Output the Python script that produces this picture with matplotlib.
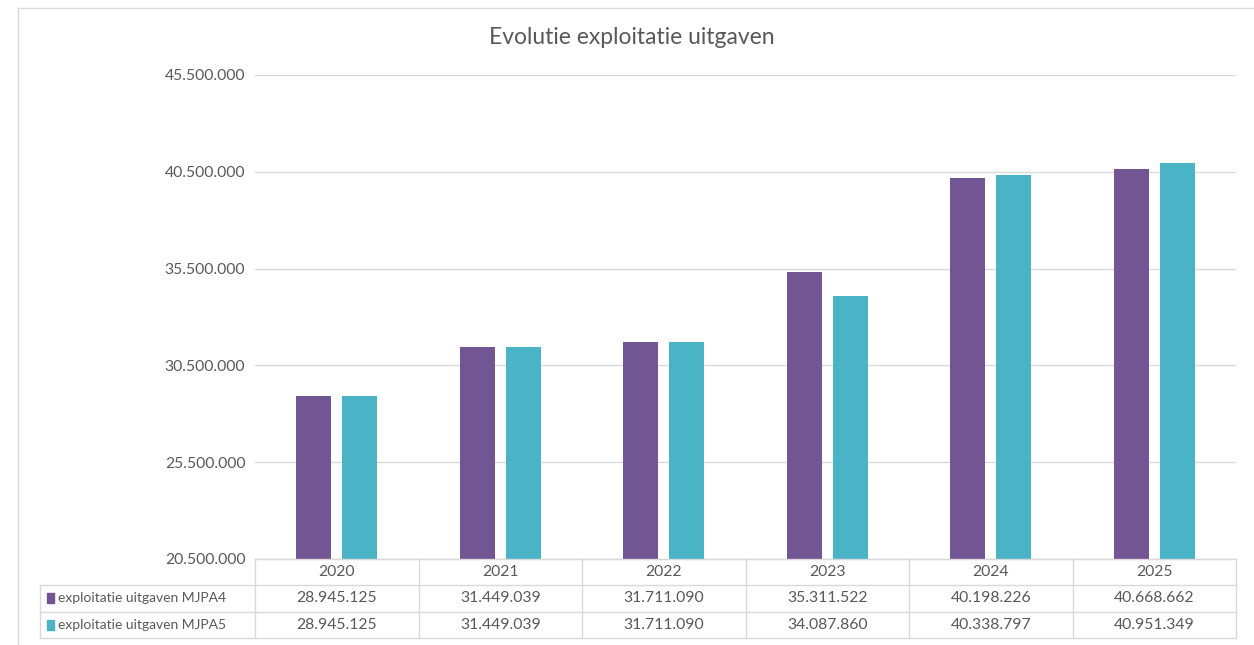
import matplotlib
matplotlib.use("Agg")
import matplotlib.pyplot as plt
import matplotlib.transforms as mtrans
from matplotlib.patches import Rectangle
import numpy as np

years = ["2020", "2021", "2022", "2023", "2024", "2025"]
series_names = ["exploitatie uitgaven MJPA4", "exploitatie uitgaven MJPA5"]
mjpa4 = [28945125, 31449039, 31711090, 35311522, 40198226, 40668662]
mjpa5 = [28945125, 31449039, 31711090, 34087860, 40338797, 40951349]
colors = ["#725593", "#4BB3C6"]
yticks = [20500000, 25500000, 30500000, 35500000, 40500000, 45500000]
title = "Evolutie exploitatie uitgaven"

plt.rcParams['font.family'] = ['Lato', 'DejaVu Sans']
txt = "#595959"
grid = "#D9D9D9"

def fmt(v):
    return f"{v:,}".replace(",", ".")

W, H = 1254, 645
fig = plt.figure(figsize=(W/100, H/100), dpi=100)
ax = fig.add_axes([255/W, 1-559/H, (1236-255)/W, (559-75)/H])

x = np.arange(len(years))
bw = 0.214
off = 0.142
ax.bar(x - off, mjpa4, bw, color=colors[0], zorder=3)
ax.bar(x + off, mjpa5, bw, color=colors[1], zorder=3)
ax.set_xlim(-0.5, len(years) - 0.5)
ax.set_ylim(yticks[0], yticks[-1])
ax.set_yticks(yticks)
ax.set_yticklabels([fmt(v) for v in yticks], color=txt, fontsize=11.3)
ax.tick_params(axis='y', length=0, pad=7)
ax.set_xticks([])
ax.grid(axis='y', color=grid, lw=1, zorder=0)
for s in ["top", "right", "left"]:
    ax.spines[s].set_visible(False)
ax.spines["bottom"].set_color(grid)

fig.text(632/W, 1-38/H, title, ha='center', va='center', fontsize=16.5, color=txt)

# data table
tr = mtrans.blended_transform_factory(ax.transData, fig.transFigure)
ftr = fig.transFigure
def fy(p): return 1 - p/H
def fx(p): return p/W
y_rows = [559, 585, 612, 638]
lc = grid
for i, yy in enumerate(y_rows):
    x0 = 255 if i == 0 else 40
    fig.add_artist(plt.Line2D([fx(x0), fx(1236)], [fy(yy), fy(yy)], color=lc, lw=1, transform=ftr))
for b in np.arange(len(years) + 1) - 0.5:
    fig.add_artist(plt.Line2D([b, b], [fy(559), fy(638)], color=lc, lw=1, transform=tr))
fig.add_artist(plt.Line2D([fx(40), fx(40)], [fy(585), fy(638)], color=lc, lw=1, transform=ftr))
for i, yr in enumerate(years):
    fig.text(i, fy(572), yr, transform=tr, ha='center', va='center', fontsize=11.3, color=txt)
for r, (name, vals) in enumerate(zip(series_names, [mjpa4, mjpa5])):
    yc = fy((y_rows[r+1] + y_rows[r+2]) / 2)
    fig.add_artist(Rectangle((fx(47), yc - 4.5/H), 7/W, 10/H, color=colors[r], transform=ftr))
    fig.text(fx(58), yc, name, ha='left', va='center', fontsize=10, color=txt)
    for i, v in enumerate(vals):
        fig.text(i, yc, fmt(v), transform=tr, ha='center', va='center', fontsize=11.3, color=txt)

fig.add_artist(plt.Line2D([fx(18), fx(1254)], [fy(8), fy(8)], color=grid, lw=1, transform=ftr))
fig.add_artist(plt.Line2D([fx(18), fx(18)], [fy(8), fy(645)], color=grid, lw=1, transform=ftr))

fig.savefig("out.png", dpi=100)
